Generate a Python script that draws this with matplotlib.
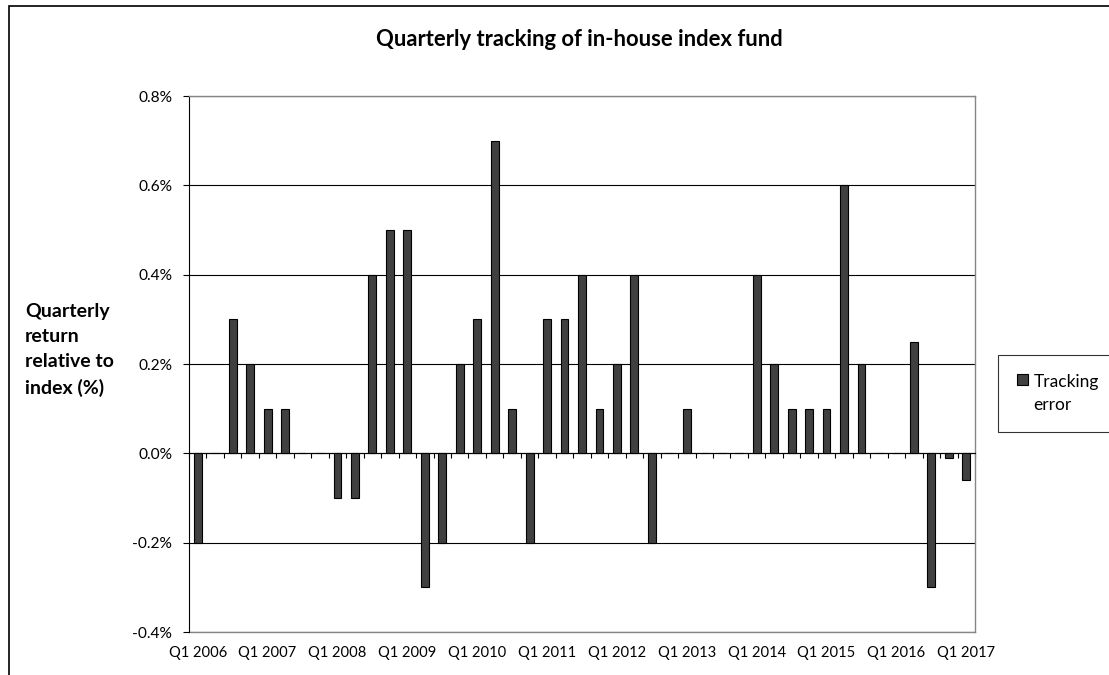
import numpy as np
import matplotlib
matplotlib.use('Agg')
import matplotlib.pyplot as plt
from matplotlib.patches import Patch, Rectangle

plt.rcParams['font.family'] = ['Lato', 'DejaVu Sans']

# Quarters Q1 2006 .. Q1 2017
years = list(range(2006, 2018))
quarters = [f'Q{q} {y}' for y in years for q in range(1, 5)][:45]

# Quarterly tracking error, % (fund return minus index return)
tracking_error = [
    -0.2, 0.0, 0.3, 0.2,     # 2006
    0.1, 0.1, 0.0, 0.0,      # 2007
    -0.1, -0.1, 0.4, 0.5,    # 2008
    0.5, -0.3, -0.2, 0.2,    # 2009
    0.3, 0.7, 0.1, -0.2,     # 2010
    0.3, 0.3, 0.4, 0.1,      # 2011
    0.2, 0.4, -0.2, 0.0,     # 2012
    0.1, 0.0, 0.0, 0.0,      # 2013
    0.4, 0.2, 0.1, 0.1,      # 2014
    0.1, 0.6, 0.2, 0.0,      # 2015
    0.0, 0.25, -0.3, -0.01,  # 2016
    -0.06,                   # 2017
]

y_ticks = [-0.4, -0.2, 0.0, 0.2, 0.4, 0.6, 0.8]
label_every = 4

W, H = 1109, 675
fig = plt.figure(figsize=(W / 100, H / 100), dpi=100)
ax = fig.add_axes([189 / W, 1 - 632 / H, (975 - 189) / W, (632 - 96) / H])

x = np.arange(len(quarters))
ax.bar(x, tracking_error, width=0.45, color='#404040', edgecolor='black',
       linewidth=0.8, zorder=3)

ax.set_xlim(-0.5, len(quarters) - 0.5)
ax.set_ylim(y_ticks[0], y_ticks[-1])
ax.set_yticks(y_ticks)
ax.set_yticklabels([f'{v:.1f}%' for v in y_ticks])
ax.yaxis.grid(True, color='black', linewidth=0.8)
ax.set_axisbelow(True)
ax.tick_params(axis='y', direction='out', length=4, width=0.8,
               labelsize=11.2, pad=8, color='black')

# category axis sits on zero, tick marks between categories
ax.spines['bottom'].set_position(('data', 0))
ax.spines['bottom'].set_color('black')
ax.spines['bottom'].set_linewidth(0.8)
ax.set_xticks(np.arange(len(quarters) + 1) - 0.5)
ax.tick_params(axis='x', direction='out', length=3.6, width=0.8,
               labelbottom=False, color='black')

for side in ('top', 'right'):
    ax.spines[side].set_color('#868686')
    ax.spines[side].set_linewidth(1.0)
ax.spines['left'].set_color('black')
ax.spines['left'].set_linewidth(0.8)

# quarter labels along the bottom edge of the plot area
secax = ax.secondary_xaxis('bottom')
secax.set_xticks(x[::label_every])
secax.set_xticklabels(quarters[::label_every])
secax.tick_params(length=0, labelsize=10.6, pad=10)
secax.spines['bottom'].set_color('#868686')
secax.spines['bottom'].set_linewidth(1.0)

fig.text(579 / W, 1 - 40 / H, 'Quarterly tracking of in-house index fund',
         ha='center', va='center', fontsize=15.8, fontweight='bold')
fig.text(25 / W, 1 - 350 / H, 'Quarterly\nreturn\nrelative to\nindex (%)',
         ha='left', va='center', fontsize=14, fontweight='bold',
         linespacing=1.58)

handle = Patch(facecolor='#404040', edgecolor='black', linewidth=0.8)
leg = fig.legend([handle], ['Tracking\nerror'], loc='upper left',
                 bbox_to_anchor=(998 / W, 1 - 355 / H), fontsize=12.5,
                 frameon=True, fancybox=False, handlelength=0.6,
                 handleheight=0.6, handletextpad=0.35, borderpad=1.1,
                 borderaxespad=0)
leg.get_frame().set_edgecolor('black')
leg.get_frame().set_linewidth(0.8)
leg.get_texts()[0].set_linespacing(1.5)
# keep the swatch level with the first text line
for column in leg._legend_handle_box.get_children():
    for row in column.get_children():
        row.align = 'top'

# chart area border
fig.patches.append(Rectangle((9 / W, -0.1), 1.2, 1.1 - 6 / H,
                             transform=fig.transFigure, fill=False,
                             edgecolor='black', linewidth=1.2))

fig.savefig('out.png', dpi=100)
